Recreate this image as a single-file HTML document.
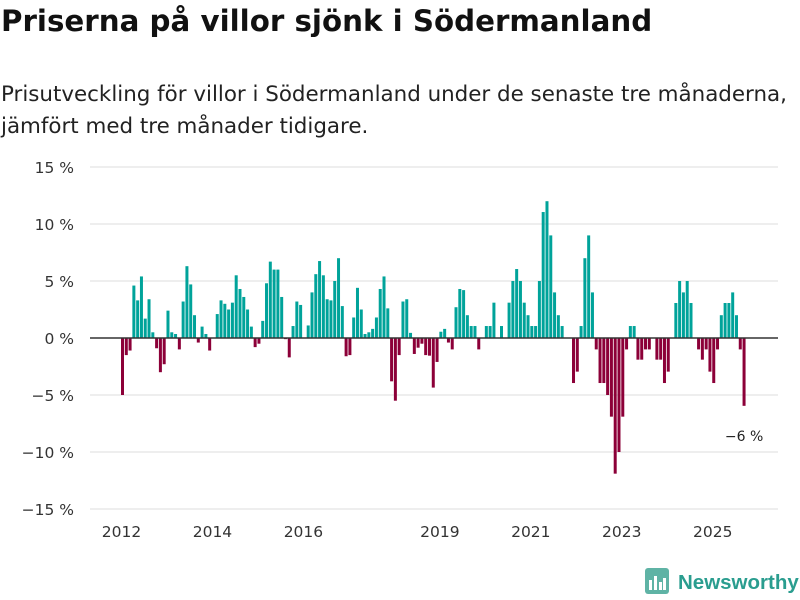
<!DOCTYPE html>
<html><head><meta charset="utf-8">
<style>
body{margin:0;width:800px;height:600px;background:#fff;font-family:"DejaVu Sans","Liberation Sans",sans-serif;overflow:hidden;position:relative}
h1{position:absolute;left:1px;top:4px;margin:0;font-size:29.3px;font-weight:bold;color:#111;white-space:nowrap}
.sub{position:absolute;left:1px;top:79px;margin:0;font-size:21.4px;line-height:32px;color:#222;white-space:nowrap}
svg{position:absolute;left:0;top:0}
.logo{position:absolute;left:645px;top:568px;font-family:"Liberation Sans",sans-serif;font-size:20.5px;font-weight:bold;color:#2a9d8f;white-space:nowrap;width:160px}
</style></head><body>
<h1>Priserna på villor sjönk i Södermanland</h1>
<p class="sub">Prisutveckling för villor i Södermanland under de senaste tre månaderna,<br>jämfört med tre månader tidigare.</p>
<svg id="chart" width="800" height="600"></svg>
<div class="logo"><svg width="24" height="26" style="position:static;vertical-align:-5px;margin-right:9px" viewBox="0 0 24 26"><rect x="0" y="0" width="24" height="26" rx="3" fill="#5fb3a5"/><rect x="4" y="12" width="3" height="10" fill="#fff"/><rect x="9" y="8" width="3" height="14" fill="#fff"/><rect x="14" y="14" width="3" height="8" fill="#fff"/><rect x="18" y="10" width="3" height="12" fill="#fff"/></svg>Newsworthy</div>
<script>
const values = [
-5.0,-1.5,-1.1,4.6,3.3,5.4,1.7,3.4,0.5,-0.9,-3.0,-2.3,
2.4,0.5,0.35,-1.0,3.2,6.3,4.7,2.0,-0.4,1.0,0.35,-1.1,
0,2.1,3.3,3.0,2.5,3.1,5.5,4.3,3.6,2.5,1.0,-0.8,
-0.5,1.5,4.8,6.7,6.0,6.0,3.6,-0.1,-1.7,1.05,3.2,2.9,
0,1.1,4.0,5.6,6.75,5.5,3.4,3.3,5.0,7.0,2.8,-1.6,
-1.5,1.8,4.4,2.5,0.35,0.5,0.8,1.8,4.3,5.4,2.6,-3.8,
-5.5,-1.5,3.2,3.4,0.45,-1.4,-0.85,-0.5,-1.5,-1.55,-4.35,-2.1,
0.55,0.8,-0.4,-1.0,2.7,4.3,4.2,2.0,1.05,1.05,-1.0,0,
1.05,1.05,3.1,0,1.05,0,3.1,5.0,6.05,5.0,3.1,2.0,
1.05,1.05,5.0,11.05,12.0,9.0,4.0,2.0,1.05,0,0,-3.95,
-2.95,1.05,7.0,9.0,4.0,-1.0,-3.95,-3.95,-5.0,-6.9,-11.9,-10.0,
-6.9,-1.0,1.05,1.05,-1.9,-1.9,-1.0,-1.0,0,-1.9,-1.9,-3.95,
-2.95,0,3.07,5.0,4.0,5.0,3.07,0,-1.0,-1.9,-1.0,-2.95,
-3.95,-1.0,2.0,3.07,3.07,4.0,2.0,-1.0,-5.95];
const yTicks = [15,10,5,0,-5,-10,-15];
const yTickLabels = ["15 %","10 %","5 %","0 %","−5 %","−10 %","−15 %"];
const xYears = [2012,2014,2016,2019,2021,2023,2025];
const annotation = "−6 %";

const NS="http://www.w3.org/2000/svg";
const svg=document.getElementById('chart');
const y=v=>338-v*11.4;
const x=i=>122.5+i*3.79;
function mk(t,a){const e=document.createElementNS(NS,t);for(const k in a)e.setAttribute(k,a[k]);svg.appendChild(e);return e;}
yTicks.forEach((t,k)=>{
  if(t!==0){const g=mk('line',{x1:90,x2:778,y1:y(t),y2:y(t),stroke:'#ddd','stroke-width':1});
  
  }
  const l=mk('text',{x:74,y:y(t)+6,'text-anchor':'end','font-size':15.5,fill:'#333'});
  l.textContent=yTickLabels[k];
  
  
});
values.forEach((v,i)=>{
  const r=mk('rect',{x:x(i)-1.5,y:Math.min(y(v),y(0)),width:3,height:Math.abs(y(v)-y(0)),fill:v>=0?'#00a39a':'#8c0038'});
  
  
});
const z=mk('line',{x1:90,x2:778,y1:y(0),y2:y(0),stroke:'#333','stroke-width':1.5});


xYears.forEach(yr=>{
  const l=mk('text',{x:x((yr-2012)*12)-1,y:537,'text-anchor':'middle','font-size':15.5,fill:'#333'});
  l.textContent=yr;
  
  
});
const last=values.length-1;
const a=mk('text',{x:x(last),y:y(values[last])+35,'text-anchor':'middle','font-size':14,fill:'#222'});
a.textContent=annotation;


</script>
</body></html>
